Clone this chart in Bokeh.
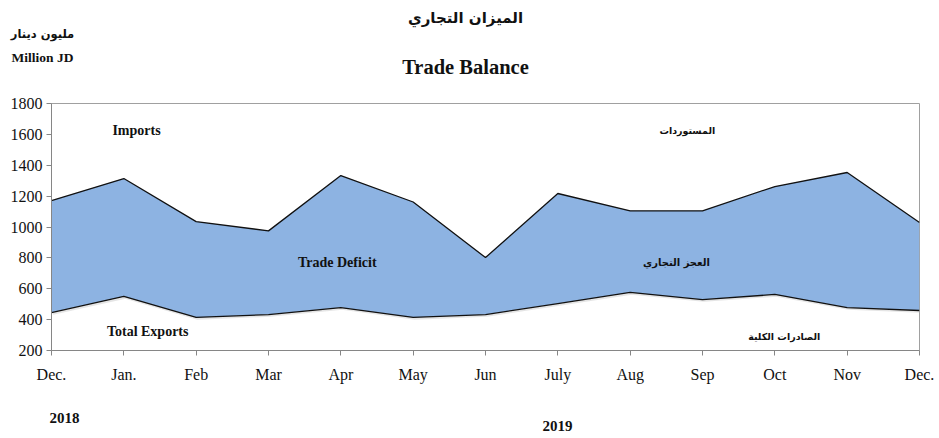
from bokeh.plotting import figure
from bokeh.models import FixedTicker, Label, Range1d
from bokeh.layouts import column
from bokeh.core.properties import value
from bokeh.embed import file_html
from bokeh.resources import INLINE

months = ["Dec.", "Jan.", "Feb", "Mar", "Apr", "May", "Jun", "July", "Aug", "Sep", "Oct", "Nov", "Dec."]
imports = [1171, 1314, 1035, 975, 1333, 1162, 802, 1217, 1105, 1105, 1262, 1353, 1029]
exports = [446, 550, 414, 433, 478, 414, 433, 504, 576, 530, 563, 478, 459]
y_ticks = [200, 400, 600, 800, 1000, 1200, 1400, 1600, 1800]
years = ["2018", "2019"]

xs = list(range(len(months)))
W = 939
LEFT, RIGHT = 51, 20
HEAD_H, MAIN_H, FOOT_H = 95, 300, 43


def blank(h):
    f = figure(width=W, height=h, output_backend="svg", toolbar_location=None,
               x_range=Range1d(0, W), y_range=Range1d(h, 0),
               min_border_left=0, min_border_right=0, min_border_top=0, min_border_bottom=0)
    f.frame_align = False
    f.axis.visible = False
    f.grid.visible = False
    f.outline_line_color = None
    return f


def txt(f, x, y, t, size, font="Liberation Serif", style="bold"):
    f.text(x=[x], y=[y], text=[t], text_font=value(font), text_font_size=size,
           text_font_style=style, text_align="center", text_baseline="middle",
           text_color="#111111")


head = blank(HEAD_H)
txt(head, 465, 17, "الميزان التجاري", "15px", "DejaVu Sans")
txt(head, 465, 66, "Trade Balance", "20.5px")
txt(head, 42, 33, "مليون دينار", "11.5px", "DejaVu Sans")
txt(head, 42, 57, "Million JD", "13.5px")

p = figure(width=W, height=MAIN_H, output_backend="svg", toolbar_location=None,
           x_range=Range1d(0, len(months) - 1), y_range=Range1d(200, 1800),
           min_border_left=LEFT, min_border_right=RIGHT, min_border_top=8, min_border_bottom=45)

p.varea(x=xs, y1=exports, y2=imports, fill_color="#8DB3E2")
p.line(x=[x + 0.02 for x in xs], y=[v - 8 for v in exports], line_color="#cccccc", line_width=2, line_alpha=0.5)
p.line(x=xs, y=imports, line_color="#111111", line_width=1.3)
p.line(x=xs, y=exports, line_color="#111111", line_width=1.3)

p.xgrid.visible = False
p.ygrid.visible = False
p.outline_line_color = "#a0a0a0"
p.outline_line_width = 1

for ax in (p.xaxis[0], p.yaxis[0]):
    ax.axis_line_color = "#868686"
    ax.major_tick_line_color = "#868686"
    ax.major_tick_out = 5
    ax.major_tick_in = 0
    ax.minor_tick_line_color = None
    ax.major_label_text_font = "Liberation Serif"
    ax.major_label_text_font_size = "16px"
    ax.major_label_text_color = "#111111"

p.xaxis.ticker = FixedTicker(ticks=xs)
p.xaxis.major_label_overrides = {i: m for i, m in enumerate(months)}
p.xaxis.major_label_standoff = 10
p.yaxis.ticker = FixedTicker(ticks=y_ticks)
p.yaxis.major_label_standoff = 4


def lab(x, y, t, size, font="Liberation Serif", style="bold"):
    p.add_layout(Label(x=x, y=y, text=t, text_font=font, text_font_size=size,
                       text_font_style=style, text_align="center", text_baseline="middle",
                       text_color="#111111"))


lab(1.175, 1625, "Imports", "14px")
lab(8.79, 1625, "المستوردات", "9.5px", "DejaVu Sans")
lab(3.95, 770, "Trade Deficit", "14px")
lab(8.64, 770, "العجز التجاري", "10px", "DejaVu Sans")
lab(1.33, 323, "Total Exports", "14px")
lab(10.13, 291, "الصادرات الكلية", "9.5px", "DejaVu Sans")

foot = blank(FOOT_H)
txt(foot, 64, 22, years[0], "15px")
txt(foot, 557, 30, years[1], "15px")

layout = column(head, p, foot, spacing=0)
open("out.html", "w").write(file_html(layout, INLINE))
